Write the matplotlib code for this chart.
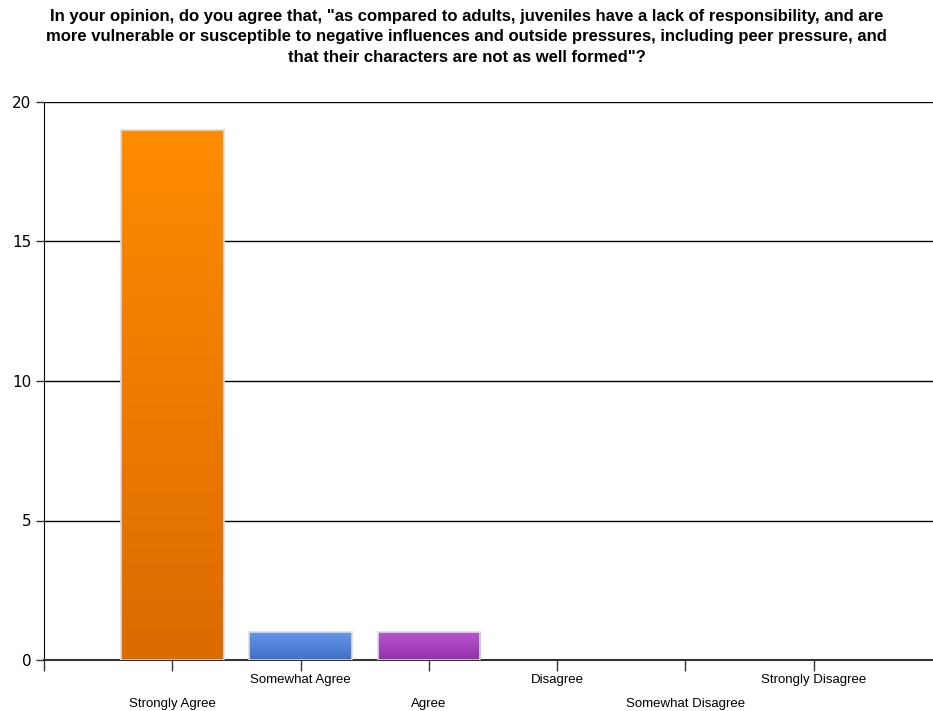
import numpy as np
import matplotlib
matplotlib.use("Agg")
import matplotlib.pyplot as plt
from matplotlib.colors import LinearSegmentedColormap

categories = ["Strongly Agree", "Somewhat Agree", "Agree", "Disagree",
              "Somewhat Disagree", "Strongly Disagree"]
counts = [19, 1, 1, 0, 0, 0]
# top / bottom colours of each bar's gradient
top_colors = ["#FF8C00", "#6497EA", "#B755D2", "#999999", "#999999", "#999999"]
bot_colors = ["#DC6B00", "#3F6FC6", "#9530A9", "#777777", "#777777", "#777777"]

title = ('In your opinion, do you agree that, "as compared to adults, juveniles have a lack of responsibility, and are\n'
         'more vulnerable or susceptible to negative influences and outside pressures, including peer pressure, and\n'
         'that their characters are not as well formed"?')

fig = plt.figure(figsize=(9.33, 7.11), dpi=100, facecolor="white")
ax = fig.add_axes([44 / 933, 1 - 660 / 711, 889 / 933, (660 - 102) / 711])

x = np.arange(len(categories))
bars = ax.bar(x, counts, width=0.8, color="none", edgecolor="#dddddd",
              linewidth=1.2, zorder=3)

# vertical gradient fill clipped to each bar
grad = np.linspace(0, 1, 256).reshape(-1, 1)
for b, c1, c2 in zip(bars, top_colors, bot_colors):
    if b.get_height() <= 0:
        b.set_linewidth(0)
        continue
    cmap = LinearSegmentedColormap.from_list("g", [c2, c1])
    x0, y0 = b.get_x(), b.get_y()
    im = ax.imshow(grad, cmap=cmap, aspect="auto", origin="lower",
                   extent=[x0, x0 + b.get_width(), y0, y0 + b.get_height()],
                   zorder=2)
    im.set_clip_path(b)

ax.set_xlim(-1, 5.93)
ax.set_ylim(0, 20)

ax.set_yticks([0, 5, 10, 15, 20])
ax.set_yticklabels(["0", "5", "10", "15", "20"], fontsize=11, family="DejaVu Sans")
ax.yaxis.grid(True, color="black", linewidth=1)
ax.set_axisbelow(True)

ax.set_xticks(np.arange(-1, 6))
ax.set_xticklabels([""] + categories)
for i, lab in enumerate(ax.get_xticklabels()[1:]):
    lab.set_fontsize(9.5)
    lab.set_family("Liberation Sans")
    if i % 2 == 0:
        lab.set_y(-0.044)
    else:
        lab.set_y(0.0)

ax.tick_params(axis="x", length=8, width=1, color="#333333", pad=2)
ax.tick_params(axis="y", length=6, width=1, color="#333333", pad=3)

for s in ["top", "right"]:
    ax.spines[s].set_visible(False)
ax.spines["left"].set_color("black")
ax.spines["bottom"].set_color("#333333")
ax.spines["bottom"].set_linewidth(1.5)

fig.text(0.5, 1 - 9 / 711, title, ha="center", va="top", fontsize=12,
         fontweight="bold", family="Liberation Sans", linespacing=1.45)

fig.savefig("out.png", dpi=100, facecolor="white")
